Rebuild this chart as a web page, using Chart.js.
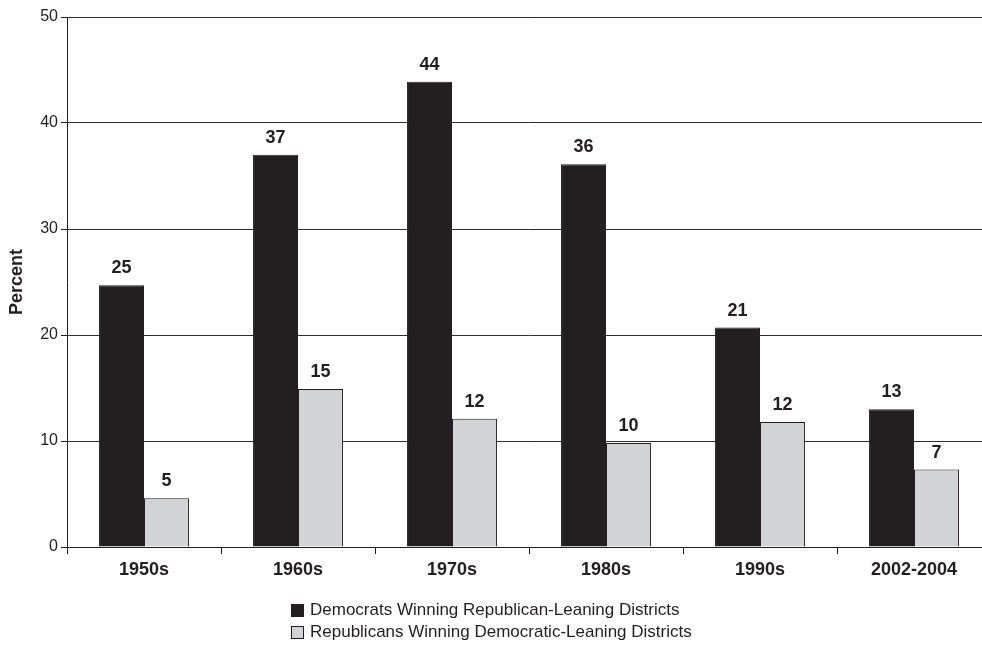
<!DOCTYPE html>
<html>
<head>
<meta charset="utf-8">
<script src="https://cdn.jsdelivr.net/npm/chart.js@4"></script>
<style>
  html, body { margin: 0; padding: 0; background: #fff; overflow: hidden; }
  #wrap { position: relative; width: 982px; height: 650px; overflow: hidden; }
  #legend { position: absolute; left: 291px; top: 599px; font: 17px "Liberation Sans", Arial, sans-serif; color: #231f20; }
  #legend .row { display: flex; align-items: center; height: 22px; white-space: nowrap; }
  #legend .box { width: 11px; height: 11px; border: 1px solid #231f20; margin-right: 6px; }
</style>
</head>
<body>
<div id="wrap">
  <canvas id="barChart" width="1000" height="650"></canvas>
  <div id="legend"></div>
</div>
<script>
// Data
const categories = ['1950s', '1960s', '1970s', '1980s', '1990s', '2002-2004'];
const demLabel = 'Democrats Winning Republican-Leaning Districts';
const repLabel = 'Republicans Winning Democratic-Leaning Districts';
const demValues = [24.7, 37.0, 43.9, 36.1, 20.7, 13.0];
const repValues = [4.6, 14.9, 12.1, 9.8, 11.8, 7.3];
const yMax = 50;
const yStep = 10;

const ink = '#231f20';
const font = '"Liberation Sans", Arial, Helvetica, sans-serif';

// Value labels over each bar
const barLabels = {
    id: 'barLabels',
    afterDatasetsDraw(chart) {
        const ctx = chart.ctx;
        ctx.save();
        ctx.font = 'bold 18px ' + font;
        ctx.fillStyle = ink;
        ctx.textAlign = 'center';
        ctx.textBaseline = 'alphabetic';
        chart.data.datasets.forEach((ds, i) => {
            chart.getDatasetMeta(i).data.forEach((bar, j) => {
                ctx.fillText(Math.round(ds.data[j]), bar.x, bar.y - 12);
            });
        });
        ctx.restore();
    },
};

const chart = new Chart('barChart', {
    type: 'bar',
    data: {
        labels: categories,
        datasets: [
            {
                label: demLabel,
                data: demValues,
                backgroundColor: ink,
                borderColor: ink,
                borderWidth: 1,
                categoryPercentage: 0.584,
                barPercentage: 1,
            },
            {
                label: repLabel,
                data: repValues,
                backgroundColor: '#d1d3d4',
                borderColor: ink,
                borderWidth: 1,
                categoryPercentage: 0.584,
                barPercentage: 1,
            },
        ],
    },
    options: {
        responsive: false,
        animation: false,
        layout: { padding: { left: 0, top: 17, right: 9, bottom: 67 } },
        plugins: {
            legend: { display: false },
            tooltip: { enabled: false },
        },
        scales: {
            x: {
                afterFit: (scale) => { scale.height = 36; },
                grid: {
                    offset: true,
                    drawOnChartArea: false,
                    drawTicks: true,
                    tickLength: 7,
                    tickColor: ink,
                },
                border: { color: ink, width: 1 },
                ticks: {
                    color: ink,
                    padding: 5,
                    font: { family: font, size: 18, weight: 'bold' },
                },
            },
            y: {
                min: 0,
                max: yMax,
                afterFit: (scale) => { scale.width = 67; },
                grid: {
                    color: '#2e2e2e',
                    lineWidth: 1,
                    tickLength: 6,
                    tickColor: ink,
                },
                border: { color: ink, width: 1 },
                ticks: {
                    stepSize: yStep,
                    color: ink,
                    padding: 3,
                    font: { family: font, size: 16 },
                },
                title: {
                    display: true,
                    text: 'Percent',
                    color: ink,
                    padding: { top: 6, bottom: 0 },
                    font: { family: font, size: 18, weight: 'bold' },
                },
            },
        },
    },
    plugins: [barLabels],
});

// Legend stacked in two rows, as in the figure
const legendEl = document.getElementById('legend');
chart.data.datasets.forEach((ds) => {
    const row = document.createElement('div');
    row.className = 'row';
    const box = document.createElement('span');
    box.className = 'box';
    box.style.background = ds.backgroundColor;
    const txt = document.createElement('span');
    txt.textContent = ds.label;
    row.appendChild(box);
    row.appendChild(txt);
    legendEl.appendChild(row);
});
</script>
</body>
</html>
